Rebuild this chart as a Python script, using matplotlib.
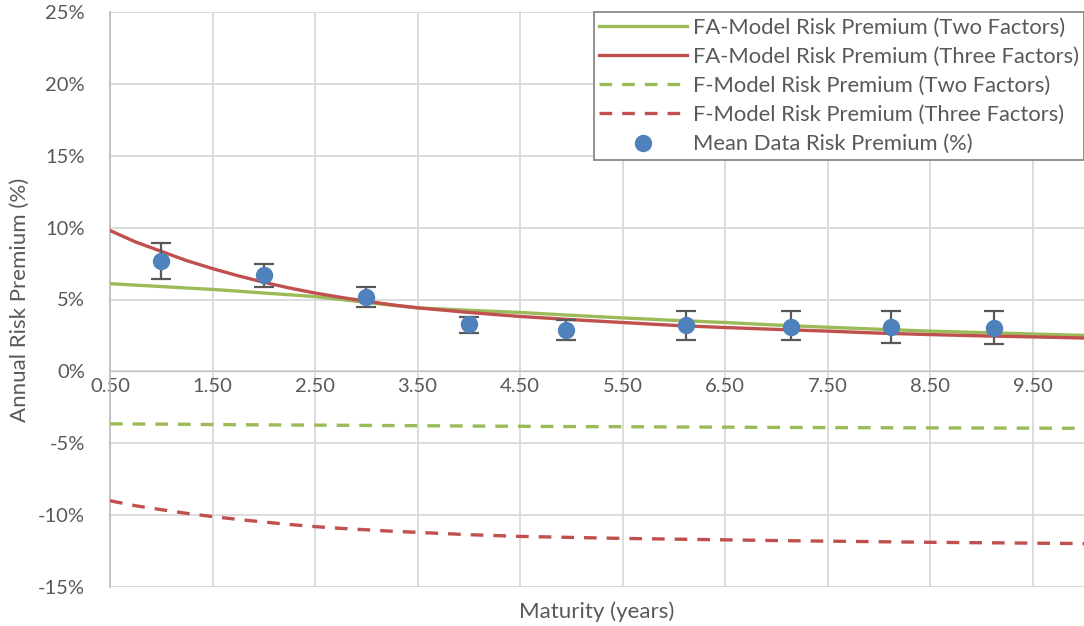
import matplotlib
matplotlib.use("Agg")
import matplotlib.pyplot as plt
from matplotlib.ticker import FuncFormatter, MultipleLocator

plt.rcParams['font.family'] = ['Lato', 'DejaVu Sans']

# model curves (maturity in years, premium in %)
curve_x = [0.5, 0.75, 1.0, 1.25, 1.5, 1.75, 2.0, 2.25, 2.5, 2.75, 3.0, 3.25, 3.5, 4.0, 4.5, 5.0,
           5.5, 6.0, 6.5, 7.0, 7.5, 8.0, 8.5, 9.0, 9.5, 10.0]
fa_two = [6.1, 6.0, 5.9, 5.8, 5.7, 5.58, 5.45, 5.33, 5.2, 5.0, 4.8, 4.6, 4.42, 4.25, 4.1, 3.9,
          3.72, 3.55, 3.4, 3.22, 3.07, 2.93, 2.8, 2.7, 2.6, 2.5]
fa_three = [9.8, 9.0, 8.35, 7.7, 7.15, 6.65, 6.2, 5.8, 5.45, 5.15, 4.88, 4.63, 4.42, 4.1, 3.82, 3.6,
            3.4, 3.2, 3.05, 2.92, 2.8, 2.66, 2.56, 2.47, 2.4, 2.32]
f_two = [-3.65, -3.66, -3.67, -3.68, -3.7, -3.71, -3.72, -3.73, -3.74, -3.75, -3.76, -3.77, -3.78,
         -3.8, -3.82, -3.84, -3.85, -3.87, -3.88, -3.9, -3.91, -3.92, -3.93, -3.94, -3.95, -3.96]
f_three = [-9.0, -9.35, -9.62, -9.88, -10.1, -10.3, -10.48, -10.65, -10.8, -10.92, -11.02, -11.12,
           -11.2, -11.36, -11.48, -11.55, -11.62, -11.67, -11.72, -11.77, -11.81, -11.85, -11.89,
           -11.92, -11.95, -11.98]

# mean data with error bar ranges
data_x = [1.0, 2.0, 3.0, 4.0, 4.95, 6.12, 7.14, 8.12, 9.12]
data_y = [7.7, 6.7, 5.2, 3.3, 2.9, 3.2, 3.1, 3.1, 3.05]
err_hi = [8.9, 7.5, 5.9, 3.75, 3.6, 4.2, 4.2, 4.2, 4.2]
err_lo = [6.4, 5.9, 4.5, 2.7, 2.15, 2.15, 2.15, 2.0, 1.9]

xticks = [0.5, 1.5, 2.5, 3.5, 4.5, 5.5, 6.5, 7.5, 8.5, 9.5]

GREEN = "#9bbb59"
RED = "#c0504d"
BLUE = "#4f81bd"
GRID = "#d9d9d9"
TXT = "#595959"

fig = plt.figure(figsize=(10.84, 6.26), dpi=100)
ax = fig.add_axes([110 / 1084, 39 / 626, 974 / 1084, 575 / 626])

ax.plot(curve_x, fa_two, color=GREEN, lw=2.4, label="FA-Model Risk Premium (Two Factors)", zorder=3)
ax.plot(curve_x, fa_three, color=RED, lw=2.4, label="FA-Model Risk Premium (Three Factors)", zorder=3)
ax.plot(curve_x, f_two, color=GREEN, lw=2.4, dashes=(3.8, 3), label="F-Model Risk Premium (Two Factors)", zorder=3)
ax.plot(curve_x, f_three, color=RED, lw=2.4, dashes=(3.8, 3), label="F-Model Risk Premium (Three Factors)", zorder=3)

yerr = [[y - lo for y, lo in zip(data_y, err_lo)], [hi - y for y, hi in zip(data_y, err_hi)]]
ax.errorbar(data_x, data_y, yerr=yerr, fmt="none", ecolor="#595959", elinewidth=1.6,
            capsize=7, capthick=1.6, zorder=4)
ax.plot(data_x, data_y, "o", color=BLUE, ms=11.5, ls="none", label="Mean Data Risk Premium (%)", zorder=5)

ax.set_xlim(0.5, 10.0)
ax.set_ylim(-15, 25)
ax.set_xticks(xticks)
ax.set_xticklabels([f"{t:.2f}" for t in xticks])
ax.yaxis.set_major_locator(MultipleLocator(5))
ax.yaxis.set_major_formatter(FuncFormatter(lambda v, p: f"{v:.0f}%"))

ax.grid(True, color=GRID, lw=1.3)
ax.set_axisbelow(True)

# horizontal axis crosses at zero
ax.spines["bottom"].set_position(("data", 0))
ax.spines["bottom"].set_color("#bfbfbf")
ax.spines["left"].set_color("#bfbfbf")
ax.spines["left"].set_linewidth(1.3)
ax.spines["top"].set_visible(False)
ax.spines["right"].set_visible(False)
ax.axhline(-15, color=GRID, lw=1.3, zorder=1)

ax.tick_params(axis="both", length=0, colors=TXT, labelsize=14.5)
ax.tick_params(axis="x", pad=5)
ax.tick_params(axis="y", pad=18)

ax.set_ylabel("Annual Risk Premium (%)", fontsize=16, color=TXT, labelpad=6)
fig.text(597 / 1084, 8 / 626, "Maturity (years)", fontsize=16, color=TXT, ha="center", va="baseline")

leg = ax.legend(loc="upper right", bbox_to_anchor=(1.0, 1.0), borderaxespad=0, fontsize=15.8,
                frameon=True, fancybox=False, handlelength=4.0, handletextpad=0.25,
                labelspacing=0.42, borderpad=0.25, labelcolor=TXT)
leg.get_frame().set_edgecolor("#7f7f7f")
leg.get_frame().set_linewidth(1.2)
leg.get_frame().set_alpha(1)

fig.savefig("out.png", dpi=100)
